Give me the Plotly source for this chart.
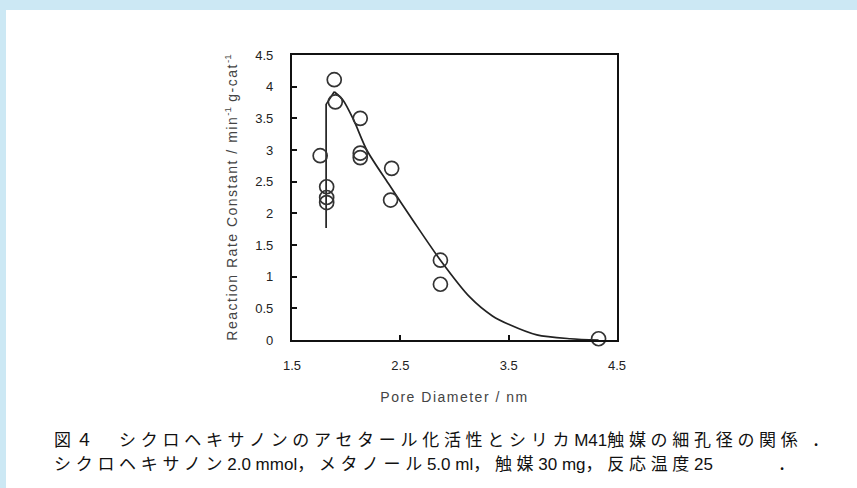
import plotly.graph_objects as go

# ---- data ----
pore_diameter = [1.89, 1.90, 1.76, 1.82, 1.82, 1.82, 2.13, 2.13, 2.13, 2.42, 2.41, 2.87, 2.87, 4.33]
rate_constant = [4.11, 3.76, 2.91, 2.42, 2.25, 2.17, 3.50, 2.95, 2.88, 2.71, 2.21, 1.26, 0.88, 0.02]

fit_rise_x = [1.815, 1.815, 1.89]
fit_rise_y = [1.77, 3.72, 3.92]
fit_decay_x = [1.89, 1.97, 2.07, 2.19, 2.39, 2.62, 2.87, 3.14, 3.35, 3.51, 3.76, 4.07, 4.33]
fit_decay_y = [3.92, 3.79, 3.47, 3.00, 2.47, 1.88, 1.26, 0.68, 0.38, 0.24, 0.08, 0.02, 0.00]

x_ticks = [1.5, 2.5, 3.5, 4.5]
x_ticktext = ["1.5", "2.5", "3.5", "4.5"]
y_ticks = [0, 0.5, 1, 1.5, 2, 2.5, 3, 3.5, 4, 4.5]
y_ticktext = ["0", "0.5", "1", "1.5", "2", "2.5", "3", "3.5", "4", "4.5"]

TS = "letter-spacing:1.5px"
x_title = f'<span style="{TS}">Pore Diameter / nm</span>'
y_title = (f'<span style="{TS}">Reaction Rate Constant / min</span><sup>-1</sup>'
           f'<span style="{TS}"> g-cat</span><sup>-1</sup>')

SP = "letter-spacing:4.7px"
caption_1 = (f'<span style="{SP}">図４　シクロヘキサノンのアセタール化活性とシリカ</span>M41'
             f'<span style="{SP}">触媒の細孔径の関係 ．</span>')
caption_2 = (f'<span style="{SP}">シクロヘキサノン</span>2.0 mmol<span style="{SP}">，メタノール</span>5.0 ml'
             f'<span style="{SP}">，触媒</span>30 mg<span style="{SP}">，反応温度</span>25<span style="{SP}">　　　．</span>')

# ---- layout geometry (pixels) ----
W, H = 857, 488
PL, PR, PT, PB = 292, 617, 55, 340


def px_x(p):
    return (p - PL) / (PR - PL)


def px_y(p):
    return (PB - p) / (PB - PT)


TICK_FONT = dict(family="Liberation Sans, Arial", size=13, color="#222")
TITLE_FONT = dict(family="Liberation Sans, Arial", size=14, color="#444")
CAP_FONT = dict(family="Liberation Sans, Noto Sans CJK JP", size=17, color="#111")

fig = go.Figure()
fig.add_trace(go.Scatter(x=fit_rise_x, y=fit_rise_y, mode="lines",
                         line=dict(color="#222", width=1.7), showlegend=False, cliponaxis=False))
fig.add_trace(go.Scatter(x=fit_decay_x, y=fit_decay_y, mode="lines",
                         line=dict(color="#222", width=1.7, shape="spline", smoothing=0.8),
                         showlegend=False, cliponaxis=False))
fig.add_trace(go.Scatter(x=pore_diameter, y=rate_constant, mode="markers",
                         marker=dict(symbol="circle-open", size=14, color="#333",
                                     line=dict(width=1.7, color="#333")),
                         showlegend=False, cliponaxis=False))

axis_common = dict(showline=True, mirror=True, linecolor="#111", linewidth=2.2,
                   ticks="inside", ticklen=5, tickwidth=1.6, tickcolor="#111",
                   showgrid=False, zeroline=False, tickfont=TICK_FONT)

fig.update_xaxes(range=[1.5, 4.5], tickvals=x_ticks, ticktext=x_ticktext,
                 ticklabelstandoff=12,
                 title=dict(text=x_title, font=TITLE_FONT, standoff=20), **axis_common)
fig.update_yaxes(range=[0, 4.5], tickvals=y_ticks, ticktext=y_ticktext,
                 ticklabelstandoff=14,
                 title=dict(text=y_title, font=TITLE_FONT, standoff=14), **axis_common)

shapes = [
    dict(type="rect", xref="paper", yref="paper", x0=px_x(0), x1=px_x(6), y0=px_y(H), y1=px_y(0),
         fillcolor="#cce8f4", line=dict(width=0), layer="below"),
    dict(type="rect", xref="paper", yref="paper", x0=px_x(0), x1=px_x(W), y0=px_y(10), y1=px_y(0),
         fillcolor="#cce8f4", line=dict(width=0), layer="below"),
]

annotations = [
    dict(text=caption_1, xref="paper", yref="paper", x=px_x(52), y=px_y(440),
         xanchor="left", yanchor="middle", showarrow=False, font=CAP_FONT),
    dict(text=caption_2, xref="paper", yref="paper", x=px_x(52), y=px_y(464),
         xanchor="left", yanchor="middle", showarrow=False, font=CAP_FONT),
]

fig.update_layout(width=W, height=H, margin=dict(l=PL, r=W - PR, t=PT, b=H - PB),
                  paper_bgcolor="white", plot_bgcolor="white",
                  shapes=shapes, annotations=annotations)

fig.write_html("out.html")
